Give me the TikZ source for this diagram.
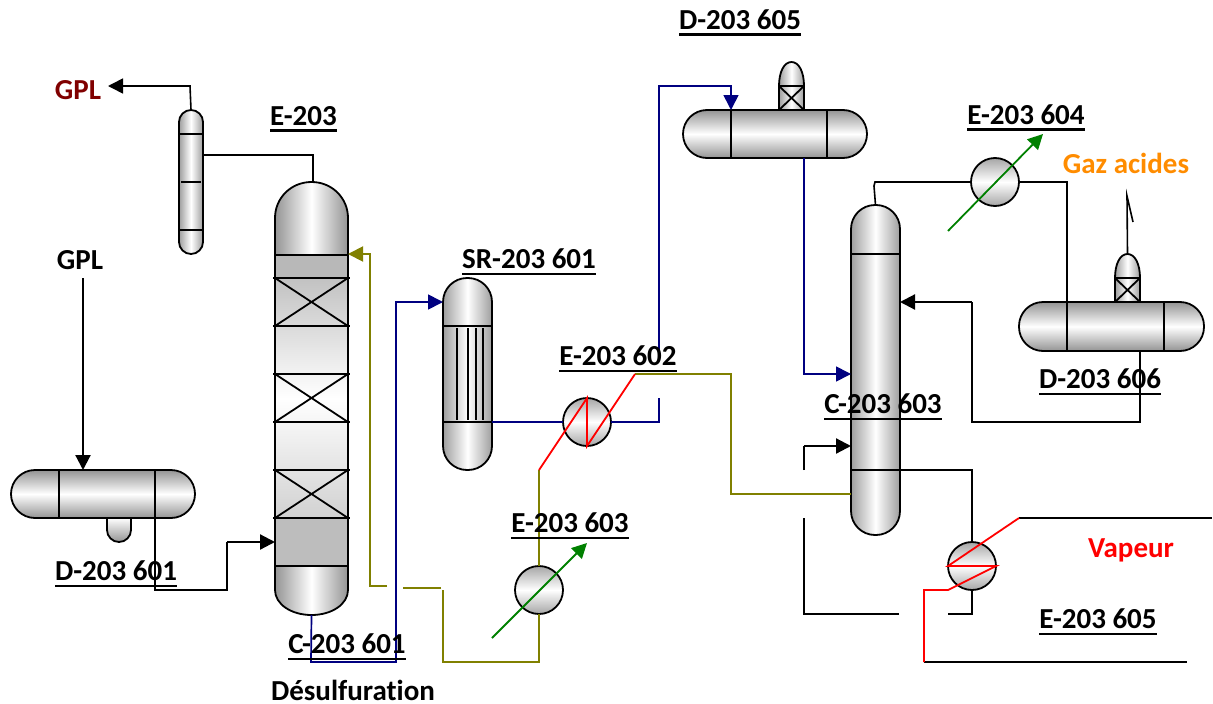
\documentclass[tikz,border=0pt]{standalone}
\usepackage{fontspec}
\setmainfont{Carlito}[Ligatures={TeX,NoCommon}]
\usetikzlibrary{arrows.meta}
\newcommand{\tagname}[1]{\setbox0\hbox{#1}\rlap{\rule[-6pt]{\wd0}{2.4pt}}\box0}
\definecolor{olive}{RGB}{128,128,0}
\tikzset{
	vessel/.style={draw, line width=1.8pt, minimum width=#1, inner sep=0pt, outer sep=0pt},
	vesselv/.style={vessel=#1, left color=black!38, right color=black!38, middle color=white},
	vesselh/.style={vessel=#1, top color=black!42, bottom color=black!42, middle color=white},
	exchanger/.style={circle, draw, line width=1.8pt, minimum size=48pt, inner sep=0pt, outer sep=0pt,
		top color=black!35, bottom color=black!35, middle color=white},
	pipe/.style={line width=1.6pt},
	feed/.style={line width=2.2pt},
	olivepipe/.style={line width=1.9pt, draw=olive},
	bluepipe/.style={line width=1.7pt, draw=blue!50!black},
	redpipe/.style={line width=1.8pt, draw=red},
	greenpipe/.style={line width=1.8pt, draw=green!50!black},
	tip/.style={-{Triangle[length=15pt,width=15pt]}},
	txt/.style={font=\fontsize{29}{34}\bfseries\selectfont, inner sep=0pt},
}
\begin{document}
\begin{tikzpicture}[x=1pt, y=-1pt]
	\useasboundingbox (0,0) rectangle (1213,704);
	% vessels
	\node[vesselv=24pt, minimum height=144pt, rounded corners=12pt] (R203) at (191,182) {};
	\draw[line width=1.8pt] (179,134) -- (203,134) (179,230) -- (203,230);
	\draw[line width=1.2pt] (181,182) -- (201,182);

	\node[vesselh=24pt, minimum height=48pt, rounded corners=12pt] (B601) at (119,518) {};
	\node[vesselh=184pt, minimum height=48pt, rounded corners=24pt] (D601) at (103,494) {};
	\draw[line width=1.8pt] (59,470) -- (59,518) (155,470) -- (155,518);

	% column C-203 601
	\node[minimum width=73pt, minimum height=433pt, inner sep=0pt, outer sep=0pt] (C601) at (311.5,398.5) {};
	\draw[line width=1.8pt, left color=black!42, right color=black!42, middle color=white]
		(275,218) .. controls (275,198) and (291,182) .. (311.5,182)
		.. controls (332,182) and (348,198) .. (348,218) -- (348,590)
		.. controls (348,604) and (332,615) .. (311.5,615)
		.. controls (291,615) and (275,604) .. (275,590) -- cycle;
	\fill[black!28] (275,255) rectangle (348,278);
	\fill[black!26] (275,518) rectangle (348,566);
	\shade[top color=black!24, bottom color=black!18, middle color=white] (275,278) rectangle (348,518);
	\draw[line width=1.8pt] (275,255) rectangle (348,566);
	\foreach \y in {278,326,374,422,470,518}
		\draw[line width=1.8pt] (273,\y) -- (350,\y);
	\foreach \y in {278,374,470}
		\draw[line width=1.8pt] (275,\y) -- (348,\y+48) (275,\y+48) -- (348,\y);

	% reactor SR-203 601
	\node[vesselv=49pt, minimum height=192pt, rounded corners=24pt] (SR601) at (467.5,374) {};
	\draw[line width=1.8pt] (443,326) -- (492,326) (443,422) -- (492,422);
	\foreach \x in {457,468,476,483}
		\draw[line width=1.6pt] (\x,328) -- (\x,420);

	% drum D-203 605
	\node[vesselv=25pt, minimum height=24pt] (N605) at (791.5,98) {};
	\draw[line width=1.8pt, left color=black!38, right color=black!38, middle color=white]
		(779,86) .. controls (779,72) and (784,62) .. (791.5,62) .. controls (799,62) and (804,72) .. (804,86) -- cycle;
	\draw[line width=1.8pt] (N605.north west) -- (N605.south east) (N605.north east) -- (N605.south west);
	\node[vesselh=184pt, minimum height=48pt, rounded corners=24pt] (D605) at (775,134) {};
	\draw[line width=1.8pt] (731,110) -- (731,158) (827,110) -- (827,158);

	% drum D-203 606
	\node[vesselv=25pt, minimum height=24pt] (N606) at (1127.5,290) {};
	\draw[line width=1.8pt, left color=black!38, right color=black!38, middle color=white]
		(1115,278) .. controls (1115,264) and (1120,254) .. (1127.5,254) .. controls (1135,254) and (1140,264) .. (1140,278) -- cycle;
	\draw[line width=1.8pt] (N606.north west) -- (N606.south east) (N606.north east) -- (N606.south west);
	\node[vesselh=185pt, minimum height=49pt, rounded corners=24pt] (D606) at (1111.5,326.5) {};
	\draw[line width=1.8pt] (1067,302) -- (1067,351) (1164,302) -- (1164,351);

	% column C-203 603
	\node[vesselv=49pt, minimum height=330pt, rounded corners=24pt] (C603) at (875.5,370) {};
	\draw[line width=1.8pt] (851,254) -- (900,254) (851,470) -- (900,470);

	% exchangers
	\node[exchanger] (E602) at (587,422) {};
	\node[exchanger] (E603) at (539,590) {};
	\node[exchanger] (E604) at (995,182) {};
	\node[exchanger] (E605) at (972,566) {};

	% black lines
	\coordinate (gplfeed) at (83,278);
	\coordinate (ventend) at (1133,222);
	\coordinate (steamin) at (1019,518);
	\coordinate (steamout) at (924,662);
	\draw[pipe, tip] (R203.north) -- (190,86) -- (108,86);
	\draw[pipe] (R203.east |- 0,155) -- (313,155) -- (C601.north -| 313,0);
	\draw[feed, tip] (gplfeed) -- (D601.north -| gplfeed);
	\draw[pipe] (D601.south -| 155,0) -- (155,590) -- (227,590) -- (227,542);
	\draw[feed, tip] (227,542) -- (C601.west |- 0,542);
	\draw[pipe] (C603.north) -- (874,186) -- (875,182) -- (E604.west);
	\draw[pipe] (E604.east) -- (1067,182) -- (1067,302);
	\draw[pipe] (N606.north |- 0,254) -- (1127,196) -- (ventend);
	\draw[pipe] (D606.south -| 1140,0) -- (1140,422) -- (972,422) -- (972,302);
	\draw[feed, tip] (972,302) -- (C603.east |- 0,302);
	\draw[pipe] (C603.east |- 0,470) -- (972,470) -- (E605.north);
	\draw[pipe] (E605.south) -- (972,614) -- (948,614);
	\draw[pipe] (899,614) -- (804,614) -- (804,518);
	\draw[pipe] (804,470) -- (804,446);
	\draw[feed, tip] (804,446) -- (C603.west |- 0,446);
	\draw[pipe] (steamin) -- (1212,518);
	\draw[pipe] (steamout) -- (1187,662);

	% blue lines
	\draw[bluepipe, tip] (C601.south) -- (311,662) -- (396,662) -- (396,302) -- (SR601.west |- 0,302);
	\draw[bluepipe] (SR601.east |- 0,422) -- (E602.west);
	\draw[bluepipe] (E602.east) -- (659,422) -- (659,398);
	\draw[bluepipe, tip] (659,350) -- (659,86) -- (731,86) -- (D605.north -| 731,0);
	\draw[bluepipe, tip] (D605.south -| 804,0) -- (804,374) -- (C603.west |- 0,374);

	% olive lines
	\coordinate (olivea) at (635,374);
	\coordinate (oliveb) at (539,470);
	\draw[olivepipe] (C603.west |- 0,494) -- (731,494) -- (731,374) -- (olivea);
	\draw[olivepipe] (oliveb) -- (E603.north);
	\draw[olivepipe] (E603.south) -- (539,662) -- (443,662) -- (443,590);
	\draw[olivepipe] (441,588) -- (403,588);
	\draw[olivepipe, tip] (387,586) -- (370,586) -- (370,254) -- (C601.east |- 0,254);

	% red lines
	\draw[redpipe] (olivea) -- (E602.south) -- (E602.north) -- (oliveb);
	\draw[redpipe] (steamin) -- (E605.west) -- (E605.east) -- (948,590) -- (924,590) -- (steamout);

	% green arrows
	\draw[greenpipe, tip] (492,638) -- (587,543);
	\draw[greenpipe, tip] (948,231) -- (1043,134);

	% labels
	\node[txt, text=red!50!black] (gplout) at (78,90) {GPL};
	\node[txt] (gplin) at (80,260) {GPL};
	\node[txt] (lE203) at (303.5,119) {\tagname{E-203}};
	\node[txt] (lD605) at (740,23) {\tagname{D-203 605}};
	\node[txt] (lE604) at (1026,118) {\tagname{E-203 604}};
	\node[txt, text=orange!90!yellow] (lgaz) at (1126,163) {Gaz acides};
	\node[txt] (lSR601) at (529,262) {\tagname{SR-203 601}};
	\node[txt] (lE602) at (618,359) {\tagname{E-203 602}};
	\node[txt] (lD606) at (1100,382) {\tagname{D-203 606}};
	\node[txt] (lC603) at (883,407) {\tagname{C-203 603}};
	\node[txt] (lE603) at (570,526) {\tagname{E-203 603}};
	\node[txt, text=red, anchor=base] (lvapeur) at (1131,557) {Vapeur};
	\node[txt] (lE605) at (1098,622) {\tagname{E-203 605}};
	\node[txt] (lD601) at (116,574) {\tagname{D-203 601}};
	\node[txt] (lC601) at (347,647) {\tagname{C-203 601}};
	\node[txt] (ldesulf) at (353,690) {Désulfuration};
\end{tikzpicture}
\end{document}
